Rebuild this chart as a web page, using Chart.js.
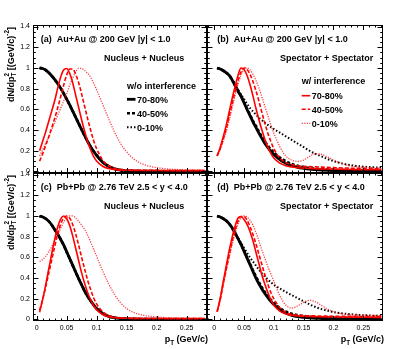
<!DOCTYPE html>
<html><head><meta charset="utf-8">
<script src="https://cdn.jsdelivr.net/npm/chart.js@4.4.1/dist/chart.umd.min.js"></script>
<style>
html,body{margin:0;padding:0;background:#fff;}
#wrap{position:relative;width:415px;height:349px;overflow:hidden;background:#fff;}
canvas{position:absolute;left:0;top:0;}
</style></head><body><div id="wrap">
<canvas id="pa" width="415" height="349"></canvas>
<canvas id="pb" width="415" height="349"></canvas>
<canvas id="pc" width="415" height="349"></canvas>
<canvas id="pd" width="415" height="349"></canvas>
</div>
<script>
// ---------- data ----------
const xs = [0.005,0.01,0.015,0.02,0.025,0.03,0.035,0.04,0.045,0.05,0.055,0.06,0.065,0.07,0.075,0.08,0.085,0.09,0.095,0.1,0.11,0.12,0.13,0.14,0.15,0.16,0.17,0.18,0.19,0.2,0.22,0.24,0.26,0.28];

const xMajorTicks = [0,0.05,0.1,0.15,0.2,0.25];
const xTickLabels = ['0','0.05','0.1','0.15','0.2','0.25'];
const xMinorTicks = [-0.01,0.01,0.02,0.03,0.04,0.06,0.07,0.08,0.09,0.11,0.12,0.13,0.14,0.16,0.17,0.18,0.19,0.21,0.22,0.23,0.24,0.26,0.27,0.28];
const yMajorTicks = [0,0.2,0.4,0.6,0.8,1.0,1.2,1.4];
const yTickLabels = ['0','0.2','0.4','0.6','0.8','1','1.2','1.4'];
const yMinorTicks = [0.05,0.1,0.15,0.25,0.3,0.35,0.45,0.5,0.55,0.65,0.7,0.75,0.85,0.9,0.95,1.05,1.1,1.15,1.25,1.3,1.35];

// (a) Au+Au 200 GeV, Nucleus + Nucleus
const aBlack70 = [1.0,0.995,0.98,0.955,0.925,0.89,0.85,0.805,0.755,0.70,0.645,0.585,0.525,0.465,0.405,0.345,0.29,0.24,0.195,0.155,0.09,0.05,0.025,0.012,0.006,0.004,0.003,0.002,0.002,0.002,0.001,0.001,0.001,0.001];
const aBlack40 = [1.0,0.995,0.98,0.955,0.925,0.89,0.85,0.805,0.755,0.70,0.645,0.585,0.525,0.465,0.405,0.345,0.29,0.24,0.195,0.155,0.09,0.05,0.025,0.012,0.006,0.004,0.003,0.002,0.002,0.002,0.001,0.001,0.001,0.001];
const aBlack0  = [1.0,0.995,0.98,0.955,0.925,0.89,0.85,0.805,0.755,0.70,0.645,0.585,0.525,0.465,0.405,0.345,0.29,0.24,0.195,0.155,0.09,0.05,0.025,0.012,0.006,0.004,0.003,0.002,0.002,0.002,0.001,0.001,0.001,0.001];
const aRed70 = [0.20,0.29,0.38,0.48,0.58,0.68,0.80,0.91,0.98,0.995,0.95,0.86,0.74,0.62,0.50,0.39,0.29,0.21,0.145,0.10,0.05,0.028,0.018,0.013,0.011,0.010,0.010,0.009,0.009,0.009,0.008,0.008,0.008,0.008];
const aRed40 = [0.10,0.17,0.25,0.33,0.42,0.51,0.61,0.72,0.83,0.93,0.99,0.99,0.94,0.86,0.75,0.63,0.51,0.40,0.30,0.22,0.11,0.055,0.03,0.02,0.015,0.012,0.011,0.010,0.010,0.010,0.009,0.009,0.009,0.009];
const aRed0  = [0.15,0.21,0.27,0.33,0.40,0.47,0.54,0.61,0.68,0.75,0.83,0.90,0.96,0.995,0.995,0.975,0.95,0.91,0.855,0.79,0.65,0.51,0.38,0.27,0.19,0.13,0.09,0.065,0.048,0.037,0.024,0.017,0.013,0.011];

// (b) Au+Au 200 GeV, Spectator + Spectator
const bBlack70 = [1.0,0.99,0.975,0.955,0.93,0.885,0.83,0.775,0.725,0.665,0.60,0.54,0.48,0.425,0.37,0.32,0.27,0.23,0.195,0.165,0.115,0.08,0.057,0.04,0.03,0.022,0.017,0.013,0.01,0.008,0.006,0.004,0.003,0.003];
const bBlack40 = [1.0,0.99,0.975,0.955,0.93,0.885,0.835,0.78,0.73,0.67,0.61,0.55,0.49,0.44,0.385,0.335,0.29,0.25,0.215,0.185,0.135,0.10,0.073,0.055,0.042,0.033,0.027,0.022,0.018,0.015,0.012,0.01,0.008,0.007];
const bBlack0  = [1.0,0.99,0.975,0.955,0.93,0.89,0.84,0.79,0.745,0.70,0.655,0.615,0.58,0.55,0.52,0.495,0.47,0.45,0.43,0.41,0.375,0.34,0.305,0.27,0.235,0.20,0.17,0.145,0.12,0.10,0.07,0.052,0.042,0.037];
const bRed70 = [0.15,0.23,0.33,0.44,0.57,0.70,0.82,0.93,1.0,0.985,0.93,0.84,0.73,0.61,0.50,0.40,0.31,0.235,0.175,0.13,0.08,0.055,0.043,0.036,0.032,0.029,0.027,0.025,0.023,0.022,0.02,0.018,0.017,0.016];
const bRed40 = [0.15,0.22,0.31,0.41,0.53,0.65,0.77,0.88,0.96,1.0,0.985,0.94,0.87,0.78,0.68,0.57,0.465,0.37,0.29,0.22,0.13,0.085,0.065,0.055,0.05,0.047,0.045,0.042,0.04,0.037,0.033,0.03,0.027,0.025];
const bRed0  = [0.15,0.21,0.29,0.38,0.49,0.61,0.73,0.84,0.93,0.985,1.0,0.98,0.94,0.88,0.81,0.72,0.63,0.54,0.45,0.37,0.24,0.15,0.11,0.097,0.11,0.145,0.172,0.165,0.14,0.11,0.065,0.045,0.037,0.033];

// (c) Pb+Pb 2.76 TeV, Nucleus + Nucleus
const cBlack70 = [1.0,0.99,0.975,0.95,0.915,0.87,0.825,0.775,0.72,0.655,0.59,0.525,0.46,0.395,0.335,0.275,0.225,0.18,0.14,0.105,0.058,0.03,0.016,0.009,0.005,0.003,0.002,0.002,0.002,0.002,0.001,0.001,0.001,0.001];
const cBlack40 = [1.0,0.99,0.975,0.95,0.915,0.87,0.825,0.775,0.72,0.655,0.59,0.525,0.46,0.395,0.335,0.275,0.225,0.18,0.14,0.105,0.058,0.03,0.016,0.009,0.005,0.003,0.002,0.002,0.002,0.002,0.001,0.001,0.001,0.001];
const cBlack0  = [1.0,0.99,0.975,0.95,0.915,0.87,0.825,0.775,0.72,0.655,0.59,0.525,0.46,0.395,0.335,0.275,0.225,0.18,0.14,0.105,0.058,0.03,0.016,0.009,0.005,0.003,0.002,0.002,0.002,0.002,0.001,0.001,0.001,0.001];
const cRed70 = [0.07,0.19,0.33,0.48,0.63,0.77,0.89,0.97,1.0,0.975,0.91,0.81,0.69,0.57,0.45,0.35,0.26,0.19,0.135,0.095,0.048,0.026,0.017,0.013,0.011,0.010,0.010,0.009,0.009,0.009,0.008,0.008,0.008,0.008];
const cRed40 = [0.09,0.19,0.31,0.44,0.57,0.70,0.82,0.92,0.98,1.0,0.98,0.92,0.83,0.72,0.60,0.49,0.38,0.29,0.21,0.15,0.075,0.038,0.022,0.015,0.012,0.010,0.010,0.010,0.009,0.009,0.009,0.009,0.009,0.009];
const cRed0  = [0.56,0.58,0.61,0.65,0.70,0.76,0.82,0.88,0.94,0.98,1.0,1.0,0.98,0.95,0.91,0.87,0.815,0.75,0.68,0.61,0.47,0.345,0.24,0.16,0.105,0.072,0.051,0.038,0.03,0.024,0.017,0.013,0.011,0.010];

// (d) Pb+Pb 2.76 TeV, Spectator + Spectator
const dBlack70 = [1.0,0.99,0.975,0.955,0.925,0.885,0.835,0.78,0.725,0.66,0.595,0.53,0.465,0.40,0.345,0.295,0.25,0.21,0.175,0.145,0.095,0.062,0.04,0.027,0.02,0.015,0.011,0.009,0.007,0.006,0.005,0.004,0.004,0.004];
const dBlack40 = [1.0,0.99,0.975,0.955,0.925,0.885,0.835,0.78,0.725,0.665,0.60,0.54,0.475,0.415,0.36,0.31,0.265,0.225,0.19,0.16,0.11,0.078,0.055,0.042,0.033,0.026,0.021,0.018,0.015,0.013,0.01,0.009,0.008,0.007];
const dBlack0  = [1.0,0.99,0.975,0.955,0.93,0.89,0.84,0.79,0.74,0.69,0.645,0.60,0.56,0.52,0.48,0.445,0.415,0.385,0.36,0.335,0.30,0.265,0.235,0.205,0.175,0.145,0.12,0.10,0.085,0.072,0.055,0.045,0.038,0.035];
const dRed70 = [0.075,0.20,0.36,0.51,0.66,0.79,0.90,0.98,0.995,0.965,0.92,0.85,0.76,0.65,0.54,0.43,0.34,0.26,0.19,0.14,0.08,0.052,0.04,0.033,0.03,0.028,0.027,0.026,0.025,0.024,0.023,0.022,0.021,0.02];
const dRed40 = [0.075,0.19,0.34,0.48,0.62,0.75,0.86,0.95,0.995,0.995,0.96,0.90,0.82,0.73,0.63,0.53,0.43,0.34,0.26,0.20,0.115,0.07,0.05,0.041,0.037,0.035,0.034,0.033,0.032,0.031,0.03,0.029,0.028,0.028];
const dRed0  = [0.075,0.18,0.32,0.46,0.59,0.72,0.83,0.92,0.98,1.0,0.99,0.96,0.91,0.84,0.76,0.67,0.59,0.51,0.44,0.37,0.23,0.14,0.11,0.13,0.165,0.185,0.17,0.135,0.10,0.075,0.05,0.043,0.04,0.04];

const legendLabels = ['70-80%','40-50%','0-10%'];

// ---------- styles ----------
const FONT = '"Liberation Sans", Arial, Helvetica, sans-serif';
const ST = {
  black70:{color:'#000000', width:2.8, dash:[]},
  black40:{color:'#000000', width:2.6, dash:[3,2]},
  black0: {color:'#000000', width:2.0, dash:[1.5,2]},
  red70:  {color:'#ff0000', width:1.6, dash:[]},
  red40:  {color:'#ff0000', width:1.6, dash:[4,2]},
  red0:   {color:'rgba(255,30,30,0.85)', width:1.3, dash:[1.2,1.3]}
};

const panels = [
  {id:'pa', rect:[33,25,207,173], xr:[-0.006,0.284], showX:false, showY:true,
   title:'(a)  Au+Au @ 200 GeV |y| < 1.0', sub:'Nucleus + Nucleus', tx:40.7, sx:104,
   legend:{head:'w/o interference', x:127, y:89.2, rows:[99.3,113.3,127.3], kind:'black'},
   yTitle:true,
   series:[[aRed70,'red70'],[aRed40,'red40'],[aRed0,'red0'],[aBlack70,'black70'],[aBlack40,'black40'],[aBlack0,'black0']]},
  {id:'pb', rect:[207,25,383,173], xr:[-0.012,0.283], showX:false, showY:false,
   title:'(b)  Au+Au @ 200 GeV |y| < 1.0', sub:'Spectator + Spectator', tx:217.3, sx:280,
   legend:{head:'w/ interference', x:301.7, y:83.9, rows:[95.7,109.3,123.3], kind:'red'},
   series:[[bRed70,'red70'],[bRed40,'red40'],[bRed0,'red0'],[bBlack70,'black70'],[bBlack40,'black40'],[bBlack0,'black0']]},
  {id:'pc', rect:[33,173,207,321], xr:[-0.006,0.284], showX:true, showY:true,
   title:'(c)  Pb+Pb @ 2.76 TeV 2.5 < y < 4.0', sub:'Nucleus + Nucleus', tx:40.7, sx:104,
   yTitle:true, xTitle:true,
   series:[[cRed70,'red70'],[cRed40,'red40'],[cRed0,'red0'],[cBlack70,'black70'],[cBlack40,'black40'],[cBlack0,'black0']]},
  {id:'pd', rect:[207,173,383,321], xr:[-0.012,0.283], showX:true, showY:false,
   title:'(d)  Pb+Pb @ 2.76 TeV 2.5 < y < 4.0', sub:'Spectator + Spectator', tx:217.3, sx:280,
   xTitle:true,
   series:[[dRed70,'red70'],[dRed40,'red40'],[dRed0,'red0'],[dBlack70,'black70'],[dBlack40,'black40'],[dBlack0,'black0']]}
];

function drawRich(ctx, x, y, parts){
  let cx = x; let lastW = 0;
  for (const p of parts){
    ctx.font = 'bold ' + p[1] + 'px ' + FONT;
    ctx.fillText(p[0], cx, y + p[2]);
    const w = ctx.measureText(p[0]).width;
    if (p[3] === false) { lastW = w; } else { cx += Math.max(w, lastW); lastW = 0; }
  }
  return cx - x;
}
function richWidth(ctx, parts){
  let cx = 0, lastW = 0;
  for (const p of parts){
    ctx.font = 'bold ' + p[1] + 'px ' + FONT;
    const w = ctx.measureText(p[0]).width;
    if (p[3] === false) { lastW = w; } else { cx += Math.max(w, lastW); lastW = 0; }
  }
  return cx;
}

function framePlugin(p){
  return {
    id:'frame_'+p.id,
    afterDraw(chart){
      const ctx = chart.ctx, a = chart.chartArea;
      const xs_ = chart.scales.x, ys_ = chart.scales.y;
      ctx.save();
      ctx.strokeStyle = '#000'; ctx.lineWidth = 1; ctx.setLineDash([]);
      ctx.strokeRect(a.left+0.5, a.top+0.5, a.right-a.left-1, a.bottom-a.top-1);
      ctx.beginPath();
      const xt = (list, len) => list.forEach(v => {
        if (v < xs_.min || v > xs_.max) return;
        const px = Math.round(xs_.getPixelForValue(v)) + 0.5;
        ctx.moveTo(px, a.bottom); ctx.lineTo(px, a.bottom - len);
        ctx.moveTo(px, a.top); ctx.lineTo(px, a.top + len);
      });
      const yt = (list, len) => list.forEach(v => {
        if (v < ys_.min || v > ys_.max) return;
        const py = Math.round(ys_.getPixelForValue(v)) + 0.5;
        ctx.moveTo(a.left, py); ctx.lineTo(a.left + len, py);
        ctx.moveTo(a.right, py); ctx.lineTo(a.right - len, py);
      });
      xt(xMajorTicks, 5); xt(xMinorTicks, 2.5);
      yt(yMajorTicks, 5.5); yt(yMinorTicks, 2.8);
      ctx.stroke();

      ctx.fillStyle = '#000';
      ctx.textAlign = 'left'; ctx.textBaseline = 'alphabetic';
      ctx.font = 'bold 9px ' + FONT;
      const top = a.top;
      ctx.fillText(p.title, p.tx, top + 16.5);
      ctx.fillText(p.sub, p.sx, top + 36.2);

      if (p.legend){
        const L = p.legend;
        ctx.fillText(L.head, L.x, L.y);
        const keys = L.kind === 'black' ? ['black70','black40','black0'] : ['red70','red40','red0'];
        keys.forEach((k,i) => {
          const s = ST[k], yy = L.rows[i];
          ctx.save();
          ctx.strokeStyle = s.color; ctx.lineWidth = s.width; ctx.setLineDash(s.dash);
          ctx.beginPath(); ctx.moveTo(L.x, yy); ctx.lineTo(L.x + 8.5, yy); ctx.stroke();
          ctx.restore();
          ctx.fillStyle = '#000';
          ctx.font = 'bold 9px ' + FONT;
          ctx.fillText(legendLabels[i], L.x + 10, yy + 3.2);
        });
      }

      if (p.yTitle){
        ctx.save();
        ctx.translate(13.5, top + 77);
        ctx.rotate(-Math.PI/2);
        drawRich(ctx, 0, 0, [['dN/dp',9,0],['T',6.3,2.5,false],['2',6.3,-4.2],[' [(GeV/c)',9,0],['-2',6.3,-4.2],[']',9,0]]);
        ctx.restore();
      }
      if (p.xTitle){
        const parts = [['p',9,0],['T',6.3,2.8],[' (GeV/c)',9,0]];
        const w = richWidth(ctx, parts);
        drawRich(ctx, a.right + 1 - w, 342, parts);
      }
      ctx.restore();
    }
  };
}

function makeChart(p){
  const datasets = p.series.map(([vals, key]) => {
    const s = ST[key];
    return {
      data: xs.map((x,i) => ({x:x, y:vals[i]})),
      borderColor: s.color, borderWidth: s.width, borderDash: s.dash,
      pointRadius: 0, fill: false, cubicInterpolationMode: 'monotone', borderCapStyle:'butt'
    };
  });
  const r = p.rect;
  const yAxisW = p.showY ? r[0] : 0;
  const xAxisH = p.showX ? 349 - r[3] : 0;
  new Chart(document.getElementById(p.id), {
    type: 'line',
    data: {datasets},
    options: {
      responsive: false, animation: false, devicePixelRatio: 1, events: [],
      layout: {padding: {left: r[0] - yAxisW, top: r[1], right: 415 - r[2], bottom: 349 - r[3] - xAxisH}},
      plugins: {legend: {display: false}, tooltip: {enabled: false}},
      scales: {
        x: {
          type: 'linear', min: p.xr[0], max: p.xr[1],
          afterBuildTicks: s => { s.ticks = xMajorTicks.map(v => ({value: v})); },
          afterFit: s => { s.height = xAxisH; },
          grid: {display: false, drawTicks: false}, border: {display: false},
          ticks: {display: p.showX, maxRotation: 0, minRotation: 0, autoSkip: false, padding: 3, color: '#000',
                  font: {family: FONT, size: 7},
                  callback: (v, i) => xTickLabels[i]}
        },
        y: {
          type: 'linear', min: -0.015, max: 1.415,
          afterBuildTicks: s => { s.ticks = yMajorTicks.map(v => ({value: v})); },
          afterFit: s => { s.width = yAxisW; },
          grid: {display: false, drawTicks: false}, border: {display: false},
          ticks: {display: p.showY, autoSkip: false, padding: 3, color: '#000',
                  font: {family: FONT, size: 7},
                  callback: (v, i) => yTickLabels[i]}
        }
      }
    },
    plugins: [framePlugin(p)]
  });
}
panels.forEach(makeChart);
</script>
</body></html>
